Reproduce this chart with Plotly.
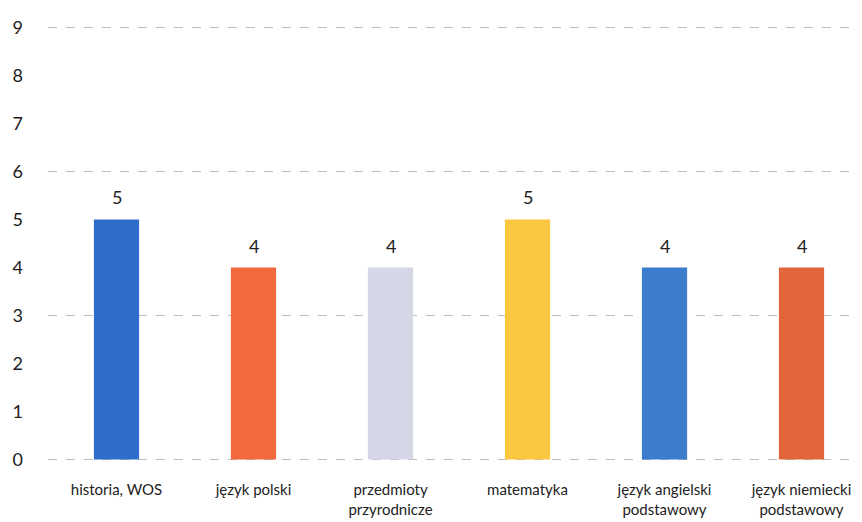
import plotly.graph_objects as go

categories = ["historia, WOS", "język polski", "przedmioty<br>przyrodnicze", "matematyka",
              "język angielski<br>podstawowy", "język niemiecki<br>podstawowy"]
values = [5, 4, 4, 5, 4, 4]
colors = ["#2f6dcc", "#f2693e", "#d5d7e6", "#fbc640", "#3b7ccc", "#e2663c"]
y_ticks = list(range(0, 10))
grid_vals = [0, 3, 6, 9]

fig = go.Figure()
fig.add_trace(go.Bar(
    x=categories, y=values, marker=dict(color=colors, line=dict(width=0)),
    showlegend=False,
))
# invisible trace for gridline axis
fig.add_trace(go.Scatter(x=categories, y=values, yaxis="y2", mode="markers",
                         marker=dict(opacity=0), showlegend=False, hoverinfo="skip"))

for c, v in zip(categories, values):
    fig.add_annotation(x=c, y=v, text=str(v), showarrow=False, yanchor="bottom", yshift=9,
                       font=dict(size=18, color="#222", family="Lato"))

fig.update_layout(
    width=862, height=522,
    margin=dict(l=40, r=0, t=17, b=68),
    plot_bgcolor="white", paper_bgcolor="white",
    bargap=0.67,
    font=dict(family="Lato", color="#222"),
    xaxis=dict(showgrid=False, showline=False, ticks="", automargin=False,
               tickfont=dict(size=15, color="#222"), ticklabelstandoff=17),
    yaxis=dict(range=[-0.05, 9.05], tickvals=y_ticks, showgrid=False, zeroline=False, showline=False,
               automargin=False, tickfont=dict(size=18, color="#222"), ticklabelstandoff=24),
    yaxis2=dict(range=[-0.05, 9.05], overlaying="y", tickvals=grid_vals, showticklabels=False,
                showgrid=True, gridcolor="#bdbdbd", griddash="dash", gridwidth=1,
                zeroline=False, showline=False, layer="below traces"),
)

fig.write_html("out.html")
